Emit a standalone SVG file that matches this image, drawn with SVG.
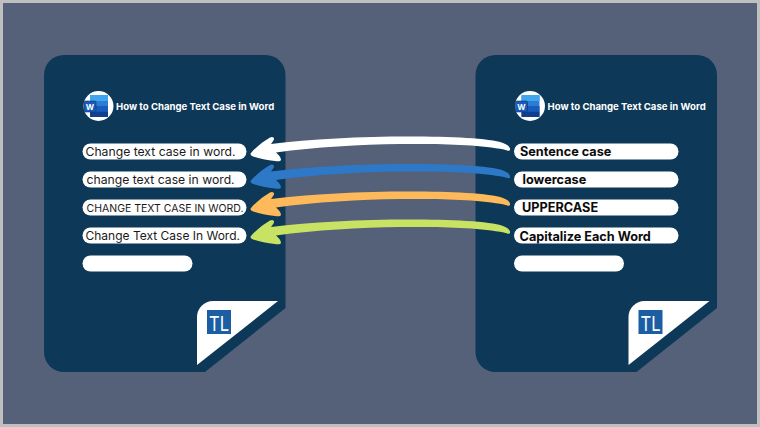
<svg xmlns="http://www.w3.org/2000/svg" width="760" height="427" viewBox="0 0 760 427">
  <style>
    .sheet { fill: #0d3858; }
    .flap { fill: #ffffff; }
    .pill { fill: #ffffff; }
    .title { font: 700 9.6px Inter, "Liberation Sans", sans-serif; fill: #ffffff; }
    .body { font: 400 12.2px Inter, "Liberation Sans", sans-serif; fill: #1a1a1a; }
    .caps { font-size: 10.5px; }
    .tight { font-size: 12px; }
    .kind { font: 700 12.7px Inter, "Liberation Sans", sans-serif; fill: #0c0c0c; }
    .logo { font: 400 20px Inter, "Liberation Sans", sans-serif; fill: #ffffff; }
    .wglyph { font: 700 8px Inter, "Liberation Sans", sans-serif; fill: #ffffff; }
  </style>
  <defs>
    <!-- Document sheet with its clipped corner, the flap and the badge -->
    <g id="sheet">
      <path class="sheet" d="M64 55H265.500A20 20 0 0 1 285.500 75V308L205 372H64A20 20 0 0 1 44 352V75A20 20 0 0 1 64 55Z"/>
      <path class="flap" d="M278 301H213A16 16 0 0 0 197 317V365Z"/>
      <rect x="207" y="310" width="24" height="24" fill="#1c5ea3"/>
      <text class="logo" x="209" y="331" textLength="20" lengthAdjust="spacingAndGlyphs">TL</text>
      <circle cx="98.500" cy="106" r="15" fill="#ffffff"/>
      <rect x="90" y="95" width="18" height="22" rx="1.500" fill="#2b7cd3"/>
      <rect x="90" y="95" width="18" height="6" fill="#41a5ee"/>
      <rect x="90" y="106" width="18" height="5.500" fill="#185abd"/>
      <rect x="90" y="111.500" width="18" height="5.500" fill="#103f91"/>
      <rect x="84" y="101" width="12" height="11" rx="1.500" fill="#185abd" stroke="#0d3858" stroke-width=".6"/>
      <text class="wglyph" x="90" y="109.500" text-anchor="middle">W</text>
      <text class="title" x="116" y="109.500">How to Change Text Case in Word</text>
    </g>
    <!-- Hand-drawn arrow: tapered shaft ending in a blunt head -->
    <path id="sweep" d="M251 153C256 147 264 141 270 137.500C273 136 275 138 273.500 140.500L271 144C310 139 360 136.500 410 136.500C450 136.500 490 138 503 143C508 145 510.500 147 510 150C509.500 151.500 507 150.500 504 149.500C480 144.500 440 143.500 400 144C360 144.500 315 147 276 152.500C279 155 281 157.500 281 160C280.500 161.500 278 161.500 275 161C266 160 257 158 252 156C250.500 155 250 154 251 153Z"/>
  </defs>

  <rect width="760" height="427" fill="#bfbfbf"/>
  <rect x="3" y="3" width="754" height="421" fill="#556079"/>

  <g id="doc-left">
    <use href="#sheet"/>
    <rect class="pill" x="82.500" y="143.500" width="164" height="16" rx="8"/>
    <rect class="pill" x="82.500" y="171.500" width="164" height="16" rx="8"/>
    <rect class="pill" x="82.500" y="199.500" width="164" height="16" rx="8"/>
    <rect class="pill" x="82.500" y="227.500" width="164" height="16" rx="8"/>
    <rect class="pill" x="82.500" y="255.500" width="110" height="16" rx="8"/>
    <text class="body" x="85.500" y="156">Change text case in word.</text>
    <text class="body" x="86.500" y="184">change text case in word.</text>
    <text class="body caps" x="86.500" y="211.500">CHANGE TEXT CASE IN WORD.</text>
    <text class="body tight" x="85.500" y="240">Change Text Case In Word.</text>
  </g>

  <g id="doc-right">
    <use href="#sheet" x="431.500"/>
    <rect class="pill" x="514" y="143.500" width="164.500" height="16" rx="8"/>
    <rect class="pill" x="514" y="171.500" width="164.500" height="16" rx="8"/>
    <rect class="pill" x="514" y="199.500" width="164.500" height="16" rx="8"/>
    <rect class="pill" x="514" y="227.500" width="164.500" height="16" rx="8"/>
    <rect class="pill" x="514" y="255.500" width="110" height="16" rx="8"/>
    <text class="kind" x="520" y="156">Sentence case</text>
    <text class="kind" x="522.500" y="184">lowercase</text>
    <text class="kind" x="522" y="212">UPPERCASE</text>
    <text class="kind" x="519.500" y="240.500">Capitalize Each Word</text>
  </g>

  <g id="connectors">
    <use href="#sweep" fill="#ffffff"/>
    <use href="#sweep" y="27.500" fill="#2e78c8"/>
    <use href="#sweep" y="55" fill="#fdb95a"/>
    <use href="#sweep" y="83" fill="#c8e263"/>
  </g>
</svg>
